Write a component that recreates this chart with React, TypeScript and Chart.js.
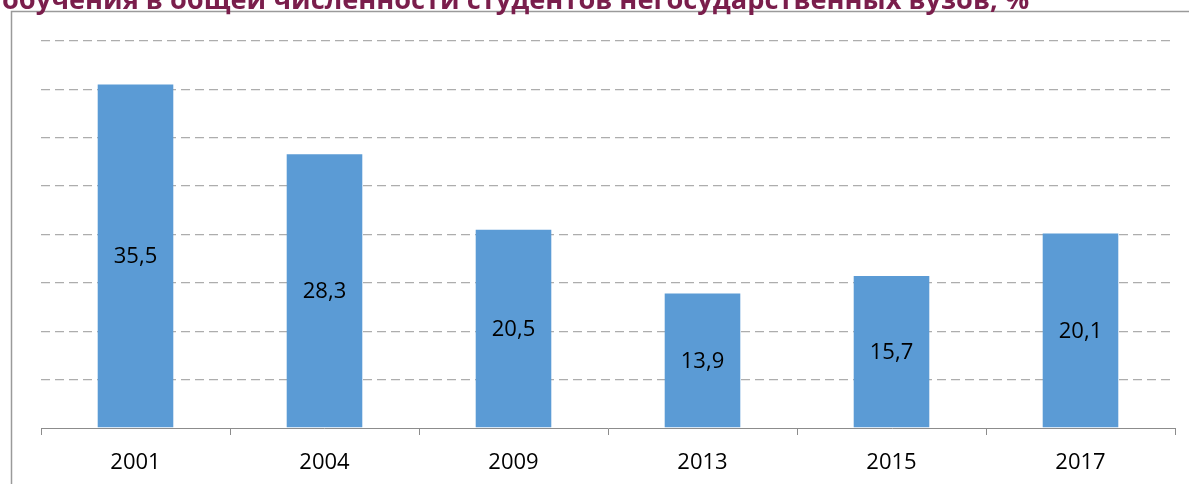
import React, { useEffect, useRef } from "react";
import { Chart, registerables } from "chart.js";

Chart.register(...registerables);

const categories = ["2001", "2004", "2009", "2013", "2015", "2017"];
const values = [35.5, 28.3, 20.5, 13.9, 15.7, 20.1];
const titleText = "обучения в общей численности студентов негосударственных вузов, %";

const FONT = "'Open Sans', 'Liberation Sans', sans-serif";

const framePlugin = {
  id: "frameAndTitle",
  beforeDraw(chart: any) {
    const ctx = chart.ctx;
    ctx.save();
    ctx.fillStyle = "#ffffff";
    ctx.fillRect(0, 0, chart.width, chart.height);
    ctx.strokeStyle = "#9a9a9a";
    ctx.lineWidth = 1.5;
    ctx.beginPath();
    ctx.moveTo(11.5, chart.height);
    ctx.lineTo(11.5, 11.5);
    ctx.lineTo(chart.width, 11.5);
    ctx.stroke();
    // title (cropped at the top, as in the original image)
    ctx.font = `bold 100px ${FONT}`;
    const w100 = ctx.measureText(titleText).width;
    const size = (100 * 1028) / w100;
    ctx.font = `bold ${size}px ${FONT}`;
    ctx.fillStyle = "#7a1e4c";
    ctx.textBaseline = "alphabetic";
    ctx.textAlign = "left";
    ctx.fillText(titleText, 2, 8.5);
    ctx.restore();
  },
};

const labelPlugin = {
  id: "barLabels",
  afterDatasetsDraw(chart: any) {
    const ctx = chart.ctx;
    const meta = chart.getDatasetMeta(0);
    ctx.save();
    ctx.font = `22px ${FONT}`;
    ctx.fillStyle = "#000000";
    ctx.textAlign = "center";
    ctx.textBaseline = "middle";
    meta.data.forEach((bar: any, i: number) => {
      const v = values[i];
      const txt = v.toFixed(1).replace(".", ",");
      ctx.fillText(txt, bar.x, (bar.y + bar.base) / 2 + 1);
    });
    ctx.restore();
  },
};

export default function App() {
  const ref = useRef<HTMLCanvasElement | null>(null);
  useEffect(() => {
    if (!ref.current) return;
    const chart = new Chart(ref.current, {
      type: "bar",
      data: {
        labels: categories,
        datasets: [
          {
            data: values,
            backgroundColor: "#5b9bd5",
            borderWidth: 0,
            categoryPercentage: 0.4,
            barPercentage: 1,
          },
        ],
      },
      options: {
        responsive: false,
        animation: false,
        layout: { padding: { left: 41, right: 14, top: 41, bottom: 0 } },
        plugins: {
          legend: { display: false },
          tooltip: { enabled: false },
          title: { display: false },
        },
        scales: {
          x: {
            offset: true,
            afterFit: (s: any) => {
              s.height = 56;
            },
            grid: {
              display: true,
              offset: true,
              drawOnChartArea: false,
              drawTicks: true,
              tickLength: 7,
              color: "#8c8c8c",
              lineWidth: 1,
            },
            border: { display: true, color: "#8c8c8c", width: 1 },
            ticks: {
              color: "#000000",
              font: { family: FONT, size: 22 },
              padding: 15,
              maxRotation: 0,
            },
          },
          y: {
            min: 0,
            max: 40,
            ticks: { display: false, stepSize: 5 },
            border: { display: false, dash: [9, 5] },
            grid: {
              drawTicks: false,
              tickLength: 0,
              lineWidth: 1.3,
              color: (c: any) => (c.tick && c.tick.value === 0 ? "rgba(0,0,0,0)" : "#adadad"),
            },
          },
        },
      },
      plugins: [framePlugin, labelPlugin],
    });
    return () => chart.destroy();
  }, []);
  return (
    <div style={{ position: "absolute", left: 0, top: 0, width: 1189, height: 484, overflow: "hidden" }}>
      <canvas ref={ref} width={1189} height={484} style={{ display: "block" }} />
    </div>
  );
}
